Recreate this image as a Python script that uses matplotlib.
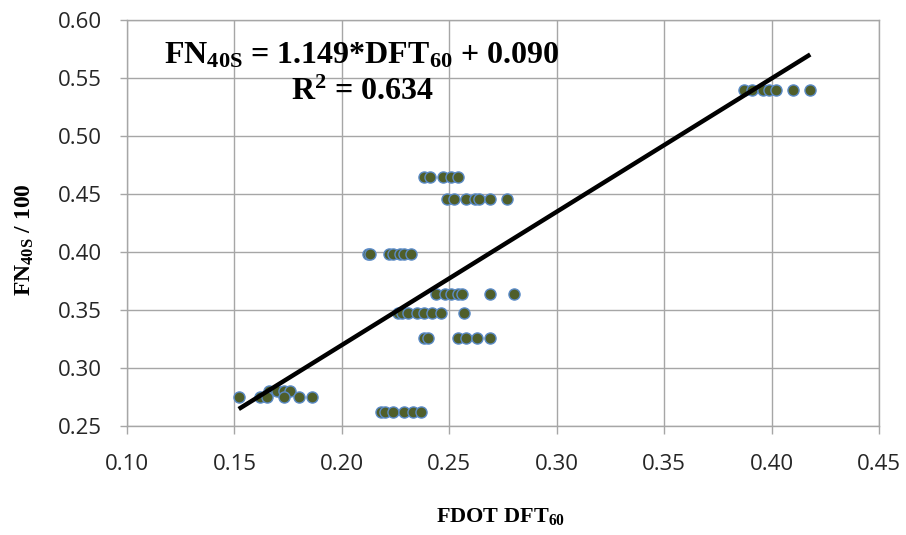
import matplotlib
matplotlib.use("Agg")
import numpy as np
from matplotlib import pyplot as plt
from matplotlib.ticker import MultipleLocator, FormatStrFormatter

# FN40S/100 levels and the FDOT DFT60 readings measured at each level
fn_levels = [0.540, 0.465, 0.446, 0.398, 0.364, 0.347, 0.326, 0.280, 0.275, 0.262]
dft_540 = [0.387, 0.391, 0.396, 0.399, 0.402, 0.410, 0.418]
dft_465 = [0.238, 0.241, 0.247, 0.251, 0.254]
dft_446 = [0.249, 0.252, 0.258, 0.262, 0.264, 0.269, 0.277]
dft_398 = [0.212, 0.213, 0.222, 0.224, 0.227, 0.229, 0.232]
dft_364 = [0.244, 0.248, 0.251, 0.254, 0.256, 0.269, 0.280]
dft_347 = [0.226, 0.228, 0.231, 0.235, 0.238, 0.242, 0.246, 0.257]
dft_326 = [0.238, 0.240, 0.254, 0.258, 0.263, 0.269]
dft_280 = [0.166, 0.170, 0.173, 0.176]
dft_275 = [0.152, 0.162, 0.165, 0.173, 0.180, 0.186]
dft_262 = [0.218, 0.220, 0.224, 0.229, 0.233, 0.237]

# linear fit reported on the chart
slope = 1.149
intercept = 0.090
r2 = 0.634

groups = [dft_540, dft_465, dft_446, dft_398, dft_364,
          dft_347, dft_326, dft_280, dft_275, dft_262]
x = np.concatenate([np.array(g) for g in groups])
y = np.concatenate([np.full(len(g), lvl) for g, lvl in zip(groups, fn_levels)])

plt.rcParams['mathtext.fontset'] = 'custom'
plt.rcParams['mathtext.rm'] = 'Liberation Serif:bold'
plt.rcParams['mathtext.it'] = 'Liberation Serif:bold'
plt.rcParams['mathtext.bf'] = 'Liberation Serif:bold'

W, H = 906, 535
fig = plt.figure(figsize=(W / 100, H / 100), dpi=100)
ax = fig.add_axes([127 / W, 1 - 426 / H, (879 - 127) / W, (426 - 20) / H])

grey = '#a6a6a6'
ax.set_xlim(0.10, 0.45)
ax.set_ylim(0.25, 0.60)
ax.xaxis.set_major_locator(MultipleLocator(0.05))
ax.yaxis.set_major_locator(MultipleLocator(0.05))
ax.xaxis.set_major_formatter(FormatStrFormatter('%.2f'))
ax.yaxis.set_major_formatter(FormatStrFormatter('%.2f'))
ax.grid(True, color=grey, linewidth=1.0)
ax.set_axisbelow(True)
for s in ax.spines.values():
    s.set_color(grey)
    s.set_linewidth(1.0)
ax.tick_params(axis='x', direction='out', length=6, width=1.0, color=grey,
               pad=14, labelsize=16, labelcolor='#262626')
ax.tick_params(axis='y', direction='out', length=5, width=1.0, color=grey,
               pad=13, labelsize=16, labelcolor='#262626')
for lab in ax.get_xticklabels() + ax.get_yticklabels():
    lab.set_fontfamily('Open Sans')

ax.scatter(x, y, s=64, facecolor='#4f5e2a', edgecolor='#5b8bc7',
           linewidth=1.0, zorder=3)

xs = np.array([x.min(), x.max()])
ax.plot(xs, slope * xs + intercept, color='black', linewidth=3.2,
        solid_capstyle='butt', zorder=4)

serif = dict(fontfamily='Liberation Serif', fontweight='bold', color='black')
fig.text(362 / W, 1 - 63 / H,
         'FN$_{40S}$ = %.3f*DFT$_{60}$ + %.3f' % (slope, intercept),
         ha='center', va='baseline', fontsize=23, **serif)
fig.text(362 / W, 1 - 100 / H, 'R$^{2}$ = %.3f' % r2,
         ha='center', va='baseline', fontsize=23, **serif)

fig.text(501 / W, 1 - 522 / H, 'FDOT DFT$_{60}$',
         ha='center', va='baseline', fontsize=16, **serif)
fig.text(25 / W, 1 - 240 / H, 'FN$_{40S}$ / 100', rotation=90,
         ha='center', va='center', fontsize=17, **serif)

fig.savefig('out.png', dpi=100)
